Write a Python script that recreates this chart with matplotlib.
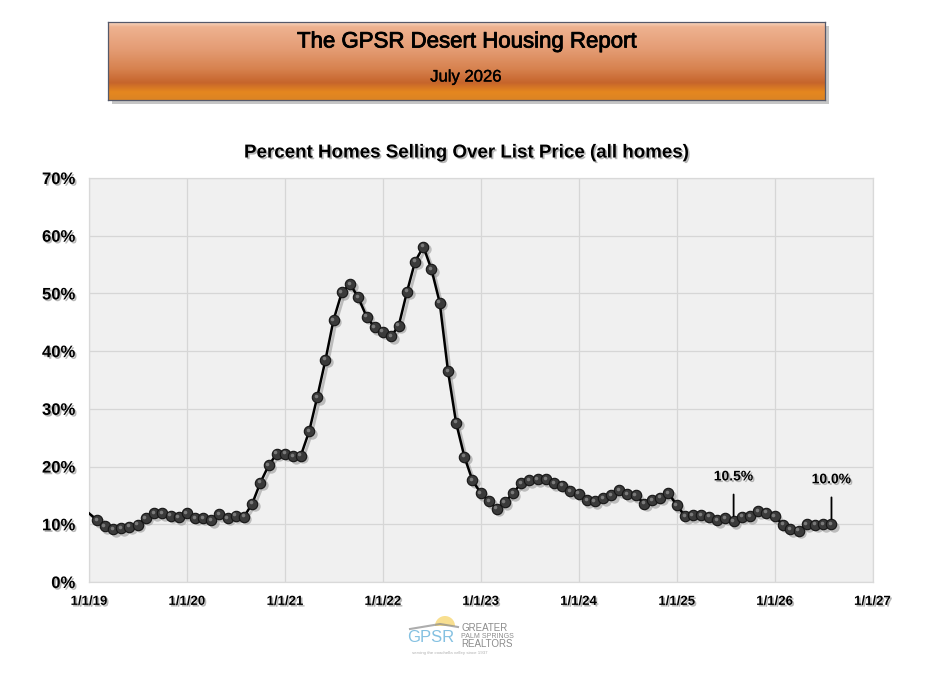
import numpy as np
import pandas as pd
import matplotlib
matplotlib.use("Agg")
import matplotlib.pyplot as plt
import matplotlib.dates as mdates
import matplotlib.patheffects as pe
from matplotlib.colors import LinearSegmentedColormap
from matplotlib.patches import Rectangle, Wedge
from matplotlib.transforms import offset_copy

plt.rcParams['font.family'] = ['Liberation Sans', 'DejaVu Sans']

# Monthly % of homes selling over list price, Jan 2019 .. Aug 2026
months = pd.date_range('2019-01-01', '2026-08-01', freq='MS')
pct_2019 = [11.9, 10.7, 9.7, 9.1, 9.3, 9.6, 9.9, 11.1, 11.9, 11.9, 11.5, 11.2]
pct_2020 = [11.9, 11.1, 11.1, 10.7, 11.7, 11.1, 11.5, 11.3, 13.6, 17.2, 20.2, 22.2]
pct_2021 = [22.2, 21.8, 21.9, 26.1, 32.0, 38.5, 45.4, 50.2, 51.6, 49.3, 46.0, 44.1]
pct_2022 = [43.4, 42.6, 44.4, 50.3, 55.5, 58.1, 54.2, 48.4, 36.5, 27.6, 21.7, 17.6]
pct_2023 = [15.4, 14.0, 12.7, 13.8, 15.4, 17.1, 17.6, 17.8, 17.8, 17.1, 16.7, 15.7]
pct_2024 = [15.3, 14.2, 14.0, 14.5, 15.0, 15.9, 15.2, 15.0, 13.6, 14.2, 14.6, 15.4]
pct_2025 = [13.3, 11.4, 11.6, 11.6, 11.3, 10.7, 11.1, 10.5, 11.3, 11.4, 12.3, 12.0]
pct_2026 = [11.4, 9.9, 9.1, 8.9, 10.0, 9.9, 10.0, 10.0]
pct = np.array(pct_2019 + pct_2020 + pct_2021 + pct_2022 + pct_2023
               + pct_2024 + pct_2025 + pct_2026)

# year-over-year callouts
callout_dates = ['2025-08-01', '2026-08-01']
callout_labels = ['10.5%', '10.0%']

year_ticks = pd.date_range('2019-01-01', '2027-01-01', freq='YS')
y_ticks = [0, 10, 20, 30, 40, 50, 60, 70]

fig = plt.figure(figsize=(9.44, 6.77), dpi=100)
fig.patch.set_facecolor('white')

shadow = [pe.SimplePatchShadow(offset=(1.2, -1.2), shadow_rgbFace='#888888', alpha=0.6),
          pe.Normal()]

# ---- header banner ----
hx0, hx1 = 108 / 944, 825 / 944
hy0, hy1 = 1 - 100 / 677, 1 - 22 / 677
# drop shadow behind banner
fig.patches.append(Rectangle((hx0 + 0.004, hy0 - 0.006), hx1 - hx0, hy1 - hy0,
                             transform=fig.transFigure, facecolor='#a0a0a0',
                             edgecolor='none', alpha=0.6, zorder=-5))
hax = fig.add_axes([hx0, hy0, hx1 - hx0, hy1 - hy0], zorder=2)
banner = LinearSegmentedColormap.from_list('banner', [
    (0.00, '#f7d6c0'), (0.06, '#eeb290'), (0.35, '#e49c74'), (0.60, '#d7824f'),
    (0.78, '#c6652c'), (0.90, '#e5871f'), (1.00, '#dc8424')])
hax.imshow(np.linspace(0, 1, 200).reshape(-1, 1), aspect='auto', cmap=banner,
           extent=[0, 1, 0, 1], origin='upper')
hax.set_xlim(0, 1)
hax.set_ylim(0, 1)
hax.set_xticks([])
hax.set_yticks([])
for s in hax.spines.values():
    s.set_color('#55596a')
    s.set_linewidth(0.9)
fig.text(467 / 944, 1 - 42 / 677, 'The GPSR Desert Housing Report', ha='center',
         va='center', fontsize=16, color='black', zorder=5,
         path_effects=[pe.withStroke(linewidth=0.6, foreground='black')])
fig.text(466 / 944, 1 - 77 / 677, 'July 2026', ha='center', va='center',
         fontsize=12, color='black', zorder=5,
         path_effects=[pe.withStroke(linewidth=0.25, foreground='black')])

# ---- main chart ----
ax = fig.add_axes([89 / 944, 1 - 582 / 677, (872.5 - 89) / 944, (582 - 178) / 677])
ax.set_facecolor('#f0f0f0')
ax.grid(True, color='#d6d6d6', linewidth=0.9)
ax.set_axisbelow(True)
for s in ax.spines.values():
    s.set_color('#d9d9d9')
    s.set_linewidth(0.9)

# marker shadow, line, marker body and highlight
marks = list(range(1, len(pct)))
sh_tr = offset_copy(ax.transData, fig=fig, x=1.8, y=-1.8, units='points')
ax.plot(months, pct, color='#9a9a9a', lw=2.0, alpha=0.6, transform=sh_tr,
        marker='o', ms=7.5, mec='none', mfc='#9a9a9a', markevery=marks, zorder=2)
ax.plot(months, pct, color='black', lw=1.8, zorder=3)
ax.plot(months, pct, ls='none', marker='o', ms=7.5, mfc='#3a3a3a', mec='#161616',
        mew=0.8, markevery=marks, zorder=4)
hl_tr = offset_copy(ax.transData, fig=fig, x=-1.0, y=1.0, units='points')
ax.plot(months, pct, ls='none', marker='o', ms=2.6, mfc='#7a7a7a', mec='none',
        markevery=marks, transform=hl_tr, zorder=5)

for d, lab in zip(callout_dates, callout_labels):
    i = list(months).index(pd.Timestamp(d))
    ax.annotate(lab, xy=(months[i], pct[i]), xytext=(0, 45), textcoords='offset pixels',
                ha='center', va='center', fontsize=10, fontweight='bold',
                path_effects=shadow,
                arrowprops=dict(arrowstyle='-', color='black', lw=1.3,
                                shrinkA=6, shrinkB=4), zorder=6)

ax.set_xlim(year_ticks[0], year_ticks[-1])
ax.set_ylim(0, 70)
ax.set_xticks(year_ticks)
ax.xaxis.set_major_formatter(mdates.DateFormatter('1/1/%y'))
ax.set_yticks(y_ticks)
ax.set_yticklabels([f'{v}%' for v in y_ticks])
ax.tick_params(axis='both', length=0)
ax.tick_params(axis='y', pad=10, labelsize=12)
ax.tick_params(axis='x', pad=10, labelsize=9.5)
for t in ax.get_xticklabels() + ax.get_yticklabels():
    t.set_fontweight('bold')
    t.set_path_effects(shadow)

fig.text(466 / 944, 1 - 153 / 677, 'Percent Homes Selling Over List Price (all homes)',
         ha='center', va='center', fontsize=13.5, fontweight='bold', path_effects=shadow)

# ---- small GPSR logo at the bottom ----
lax = fig.add_axes([400 / 944, 1 - 660 / 677, 130 / 944, 50 / 677])
lax.set_xlim(0, 130)
lax.set_ylim(0, 50)
lax.axis('off')
lax.add_patch(Wedge((45, 34), 10, 0, 180, facecolor='#f7d774', edgecolor='none', alpha=0.8))
lax.plot([10, 40, 58], [31, 36, 33], color='#8a8a8a', lw=1.5, alpha=0.7)
lax.text(31, 23, 'GPSR', ha='center', va='center', fontsize=12, color='#6fb6dc', alpha=0.85)
lax.text(61, 32, 'GREATER', ha='left', va='center', fontsize=7, color='#8c8c8c')
lax.text(61, 24, 'PALM SPRINGS', ha='left', va='center', fontsize=5, color='#8c8c8c')
lax.text(61, 16, 'REALTORS', ha='left', va='center', fontsize=7, color='#8c8c8c')
lax.text(12, 7, 'serving the coachella valley since 1937', ha='left', va='center',
         fontsize=3.2, color='#b0b0b0')

fig.savefig('out.png', dpi=100)
